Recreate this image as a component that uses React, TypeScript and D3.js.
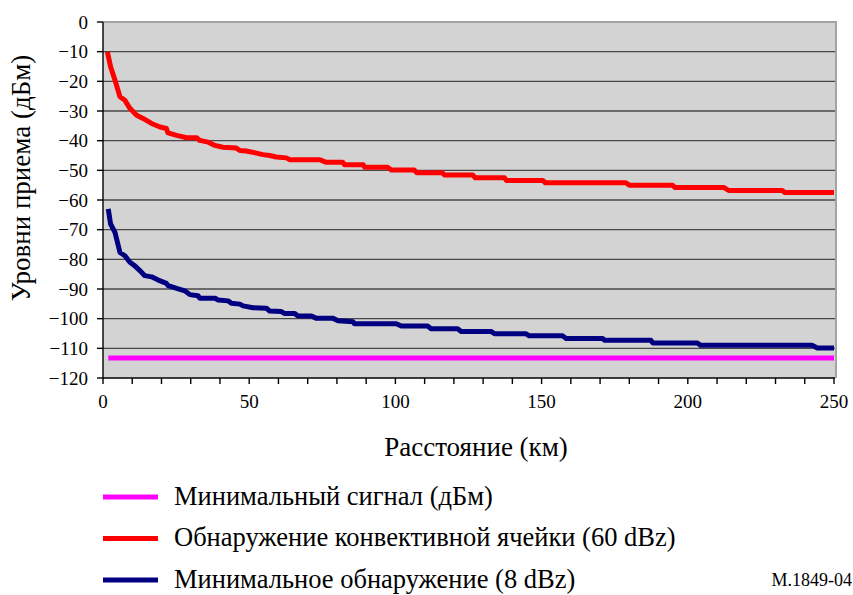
import { useEffect, useRef } from "react";
import * as d3 from "d3";

// distance (km) / received level (dBm)
const convKm = [1.5, 2.6, 4.1, 5.8, 7.5, 9.2, 11.5, 13.7, 16.6, 19.5, 21.7, 22.2, 25.2, 28.6, 32, 33, 36, 38.3, 41, 45.6, 46.8, 49, 52.5, 54.7, 57, 59.3, 62.7, 63.9, 74, 76.4, 82, 82.6, 89, 89.5, 97.4, 98.6, 106.5, 107.3, 116, 116.8, 126.5, 127.3, 137.3, 138, 150.4, 151.3, 178.8, 180, 194.8, 195.6, 212.4, 214, 232.3, 233.2, 250];
const convDb = [-10, -15.1, -19.6, -25.2, -26.4, -29.1, -31.4, -32.5, -34.2, -35.4, -35.9, -37.4, -38.2, -39, -39, -39.9, -40.5, -41.6, -42.2, -42.5, -43.3, -43.5, -44.2, -44.7, -45, -45.5, -45.8, -46.4, -46.4, -47.3, -47.3, -48.1, -48.1, -49, -49, -49.9, -49.9, -50.8, -50.8, -51.6, -51.6, -52.5, -52.5, -53.4, -53.4, -54.2, -54.2, -55, -55, -55.8, -55.8, -56.8, -56.8, -57.5, -57.5];

const minDetKm = [1.8, 2.6, 4.1, 5.8, 7.5, 9.2, 10.9, 12.6, 14.3, 16.6, 18.9, 21.7, 22.3, 25.2, 28, 29.7, 32.5, 33.1, 38.3, 39.4, 42.8, 43.9, 46.8, 47.9, 51.3, 55.9, 57, 61, 62.2, 65.6, 66.7, 71.3, 73, 78.7, 80.4, 85.5, 86, 100.3, 102, 111, 112.2, 121.3, 122.5, 132.7, 133.9, 144.7, 145.8, 157.2, 158.4, 170.9, 171.5, 187.4, 188, 203.3, 204.4, 242.6, 244.3, 250];
const minDetDb = [-63, -68.1, -70.9, -77.7, -78.8, -81, -82.2, -83.8, -85.5, -85.9, -87, -88.1, -88.9, -89.8, -90.6, -91.9, -92.3, -93.1, -93.1, -93.7, -94, -94.8, -95.1, -95.7, -96.3, -96.5, -97.4, -97.6, -98.3, -98.3, -99.1, -99.1, -99.9, -99.9, -100.7, -101, -101.7, -101.7, -102.5, -102.5, -103.4, -103.4, -104.3, -104.3, -105.1, -105.1, -105.8, -105.8, -106.7, -106.7, -107.3, -107.3, -108.2, -108.2, -109, -109, -109.9, -109.9];

const minSigKm = [1.8, 250];
const minSigDb = [-113.3, -113.3];

const yTicks = [0, -10, -20, -30, -40, -50, -60, -70, -80, -90, -100, -110, -120];
const xLabels = [0, 50, 100, 150, 200, 250];

const legendItems = [
  { label: "Минимальный сигнал (дБм)", color: "#ff00ff" },
  { label: "Обнаружение конвективной ячейки (60 dBz)", color: "#ff0000" },
  { label: "Минимальное обнаружение (8 dBz)", color: "#000080" },
];

const FONT = '"Liberation Serif", "DejaVu Serif", serif';

export default function App() {
  const ref = useRef<SVGSVGElement | null>(null);

  useEffect(() => {
    const svgEl = ref.current;
    if (!svgEl) return;

    const W = 853, H = 595;
    const left = 103, right = 834, top = 22, bottom = 378;

    const svg = d3.select(svgEl);
    svg.selectAll("*").remove();
    svg.attr("width", W).attr("height", H).style("font-family", FONT);

    svg.append("rect").attr("width", W).attr("height", H).attr("fill", "#fff");

    const x = d3.scaleLinear().domain([0, 250]).range([left, right]);
    const y = d3.scaleLinear().domain([-120, 0]).range([bottom, top]);

    // plot background + frame
    svg.append("rect")
      .attr("x", left).attr("y", top)
      .attr("width", right + 2 - left).attr("height", bottom - top)
      .attr("fill", "#d3d3d3");
    svg.append("path")
      .attr("d", `M${left},${top}H${right + 2}V${bottom}`)
      .attr("fill", "none").attr("stroke", "#a3a3a3").attr("stroke-width", 2);

    // gridlines
    svg.append("g")
      .selectAll("line")
      .data(yTicks.filter((t) => t !== 0 && t !== -120))
      .enter()
      .append("line")
      .attr("x1", left).attr("x2", right + 1)
      .attr("y1", (d) => y(d)).attr("y2", (d) => y(d))
      .attr("stroke", "#474747").attr("stroke-width", 1.4);

    // axes (drawn by hand to match the Excel look)
    const yAxis = svg.append("g");
    yAxis.append("line")
      .attr("x1", left).attr("x2", left).attr("y1", top).attr("y2", bottom)
      .attr("stroke", "#000").attr("stroke-width", 1.4);
    yAxis.selectAll("line.tick")
      .data(yTicks).enter().append("line").attr("class", "tick")
      .attr("x1", left - 6).attr("x2", left)
      .attr("y1", (d) => y(d)).attr("y2", (d) => y(d))
      .attr("stroke", "#000").attr("stroke-width", 1.4);
    yAxis.selectAll("text")
      .data(yTicks).enter().append("text")
      .attr("x", left - 15).attr("y", (d) => y(d)).attr("dy", "0.35em")
      .attr("text-anchor", "end")
      .style("font-family", FONT).attr("font-size", 19)
      .text((d) => (d < 0 ? "\u2212" + Math.abs(d) : String(d)));

    const xAxis = svg.append("g");
    xAxis.append("line")
      .attr("x1", left).attr("x2", right + 1).attr("y1", bottom).attr("y2", bottom)
      .attr("stroke", "#000").attr("stroke-width", 1.4);
    xAxis.selectAll("line.tick")
      .data(d3.range(0, 251, 10)).enter().append("line").attr("class", "tick")
      .attr("x1", (d) => x(d)).attr("x2", (d) => x(d))
      .attr("y1", bottom).attr("y2", bottom + 6)
      .attr("stroke", "#000").attr("stroke-width", 1.4);
    xAxis.selectAll("text")
      .data(xLabels).enter().append("text")
      .attr("x", (d) => x(d)).attr("y", 408)
      .attr("text-anchor", "middle")
      .style("font-family", FONT).attr("font-size", 19)
      .text((d) => String(d));

    // series
    const line = d3.line<[number, number]>()
      .x((d) => x(d[0]))
      .y((d) => y(d[1]));
    const series = [
      { km: minSigKm, db: minSigDb, color: "#ff00ff" },
      { km: convKm, db: convDb, color: "#ff0000" },
      { km: minDetKm, db: minDetDb, color: "#000080" },
    ];
    series.forEach((s) => {
      const pts = s.km.map((k, i) => [k, s.db[i]] as [number, number]);
      svg.append("path")
        .datum(pts)
        .attr("d", line)
        .attr("fill", "none")
        .attr("stroke", s.color)
        .attr("stroke-width", 5)
        .attr("stroke-linejoin", "round");
    });

    // axis titles
    svg.append("text")
      .attr("transform", `translate(30,${(top + bottom) / 2 - 22}) rotate(-90)`)
      .attr("text-anchor", "middle")
      .style("font-family", FONT).attr("font-size", 27)
      .text("Уровни приема (дБм)");
    svg.append("text")
      .attr("x", 476).attr("y", 456)
      .attr("text-anchor", "middle")
      .style("font-family", FONT).attr("font-size", 27)
      .text("Расстояние (км)");

    // legend
    const lg = svg.append("g");
    legendItems.forEach((it, i) => {
      const ly = 497 + i * 41.5;
      lg.append("line")
        .attr("x1", 103).attr("x2", 158).attr("y1", ly).attr("y2", ly)
        .attr("stroke", it.color).attr("stroke-width", 5);
      lg.append("text")
        .attr("x", 174).attr("y", ly).attr("dy", "0.3em")
        .style("font-family", FONT).attr("font-size", 26.5)
        .text(it.label);
    });

    svg.append("text")
      .attr("x", 852).attr("y", 586)
      .attr("text-anchor", "end")
      .style("font-family", FONT).attr("font-size", 18)
      .text("M.1849-04");
  }, []);

  return (
    <div style={{ position: "absolute", left: 0, top: 0 }}>
      <svg ref={ref} style={{ display: "block" }} />
    </div>
  );
}
